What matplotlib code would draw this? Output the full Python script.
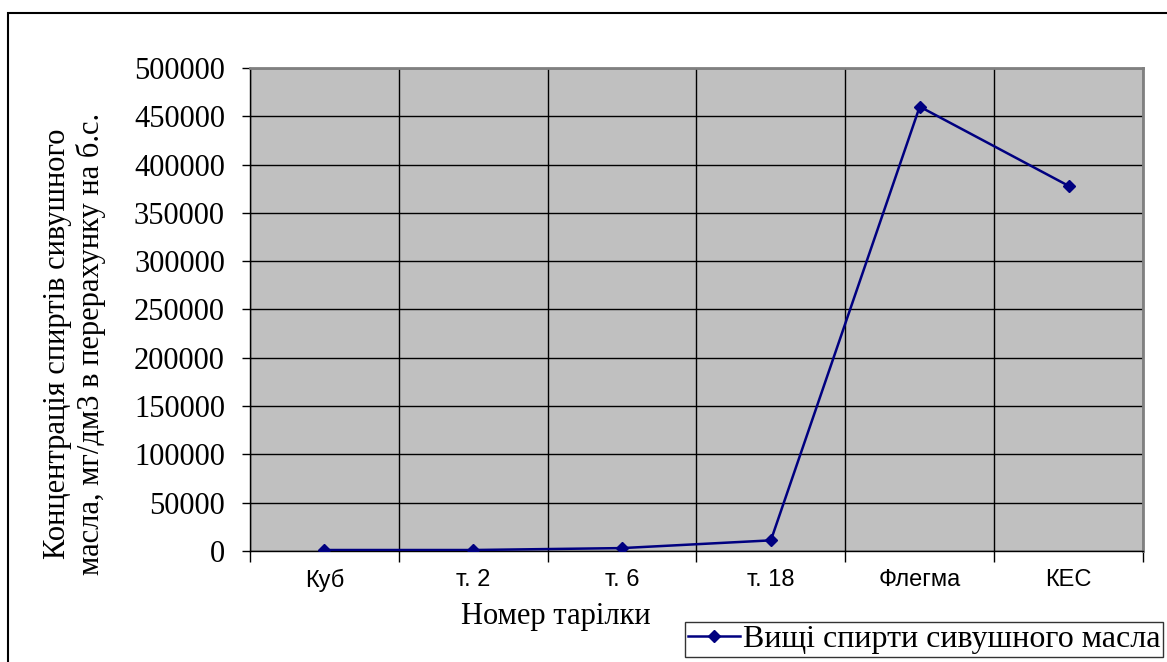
import matplotlib
matplotlib.use('Agg')
import matplotlib.pyplot as plt
from matplotlib.patches import Rectangle

categories = ['Куб', 'т. 2', 'т. 6', 'т. 18', 'Флегма', 'КЕС']
values = [1000, 1000, 3000, 11000, 460000, 378000]
series_name = 'Вищі спирти сивушного масла'

serif = ['Liberation Serif', 'DejaVu Serif']
sans = ['Liberation Sans', 'DejaVu Sans']

fig = plt.figure(figsize=(11.67, 6.62), dpi=100)
ax = fig.add_axes([0.2142, 0.1677, 0.7652, 0.7296])
ax.set_facecolor('#C0C0C0')

x = list(range(len(categories)))
line, = ax.plot(x, values, color='#000080', lw=1.8, marker='D', ms=6.5,
                label=series_name, zorder=3)

ax.set_xlim(-0.5, len(categories) - 0.5)
ax.set_ylim(0, 500000)
ax.set_yticks(range(0, 500001, 50000))
ax.set_yticklabels([str(v) for v in range(0, 500001, 50000)],
                   family=serif, fontsize=22)
ax.set_xticks(x)
ax.set_xticklabels(categories, family=sans, fontsize=17)
ax.set_xticks([i + 0.5 for i in range(-1, len(categories))], minor=True)

ax.tick_params(axis='x', which='major', length=0, pad=13)
ax.tick_params(axis='x', which='minor', length=8, width=1, color='black')
ax.tick_params(axis='y', length=6, width=1, pad=12)

ax.grid(axis='y', color='black', lw=1)
ax.grid(axis='x', which='minor', color='black', lw=1)
ax.set_axisbelow(True)

for s in ['left', 'bottom']:
    ax.spines[s].set_color('black')
    ax.spines[s].set_linewidth(1)
for s in ['top', 'right']:
    ax.spines[s].set_color('#808080')
    ax.spines[s].set_linewidth(2)

fig.text(0.064, 0.48, 'Концентрація спиртів сивушного\nмасла, мг/дм3 в перерахунку на б.с.',
         rotation=90, ha='center', va='center', family=serif, fontsize=22,
         linespacing=1.2)
fig.text(0.476, 0.068, 'Номер тарілки', ha='center', va='center',
         family=serif, fontsize=22)

leg = fig.legend(handles=[line], loc='lower right', bbox_to_anchor=(0.997, 0.007),
                 prop={'family': serif, 'size': 23}, frameon=True, fancybox=False,
                 borderpad=0.1, handlelength=1.6, handletextpad=0.1,
                 borderaxespad=0)
leg.get_frame().set_edgecolor('black')
leg.get_frame().set_linewidth(1)

fig.add_artist(Rectangle((8 / 1167, -0.1), 1.2, 1.1 - 13 / 662,
                         transform=fig.transFigure, fill=False,
                         edgecolor='black', lw=1.5))

fig.savefig('out.png', dpi=100)
